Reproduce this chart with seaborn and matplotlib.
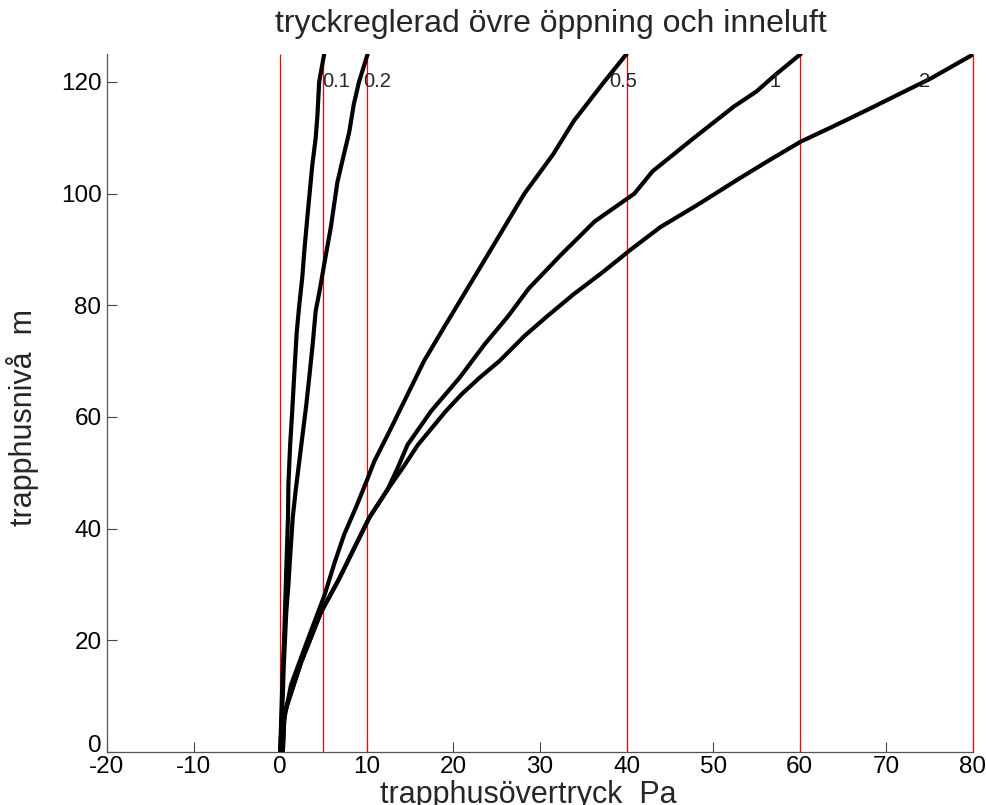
import numpy as np
import pandas as pd
import matplotlib
matplotlib.use("Agg")
import matplotlib.pyplot as plt
import seaborn as sns

# Stairwell height (m) and overpressure (Pa) for each opening area
h_01 = [0, 5, 10, 15, 20, 25, 30, 35, 42, 48, 55, 60, 67, 75, 80, 85, 90, 96, 105, 110, 114, 120, 125]
p_01 = [0, 0.1, 0.2, 0.3, 0.45, 0.55, 0.65, 0.75, 0.9, 0.95, 1.15, 1.35, 1.6, 1.9, 2.2, 2.55, 2.8, 3.15, 3.7, 4.1, 4.3, 4.5, 5.08]

h_02 = [0, 5, 10, 15, 20, 25, 30, 35, 42, 47, 52, 57, 62, 67, 73, 79, 83, 87.5, 94, 102, 106, 111, 116, 120, 125]
p_02 = [0, 0.15, 0.3, 0.4, 0.55, 0.7, 0.95, 1.15, 1.45, 1.8, 2.2, 2.6, 3.0, 3.35, 3.75, 4.1, 4.6, 5.1, 5.85, 6.6, 7.2, 7.97, 8.5, 9.1, 10.1]

h_05 = [0, 5, 12, 20, 28, 34, 39, 44, 49, 52, 58, 64, 70, 76, 85, 93, 100, 107, 113, 120, 125]
p_05 = [0, 0.35, 1.25, 3.15, 5.1, 6.3, 7.4, 8.8, 10.1, 10.85, 12.8, 14.7, 16.6, 18.9, 22.4, 25.5, 28.2, 31.5, 33.9, 37.4, 40.0]

h_1 = [0, 7, 16, 25, 31, 37, 42, 47, 51, 55, 61, 67, 73, 78, 83, 89, 95, 100, 104, 110, 115.6, 118.3, 121.3, 125]
p_1 = [0.3, 0.5, 2.4, 4.7, 6.8, 8.7, 10.3, 12.4, 13.6, 14.7, 17.4, 20.7, 23.6, 26.3, 28.7, 32.4, 36.3, 40.9, 43.0, 47.8, 52.4, 55.0, 57.2, 60.1]

h_2 = [0, 7, 16, 25, 31, 37, 42, 47, 51, 55, 61, 64, 67, 70, 74.5, 78, 82, 86, 90, 94, 98, 102.5, 106, 109.3, 112, 115, 118, 120.6, 125]
p_2 = [0.3, 0.5, 2.4, 4.7, 6.8, 8.7, 10.3, 12.4, 14.2, 15.9, 19.1, 20.9, 23.0, 25.3, 28.2, 30.8, 33.9, 37.3, 40.5, 43.9, 48.2, 52.8, 56.5, 60.1, 63.8, 67.8, 71.7, 75.1, 80.1]

curve_labels = ["0.1", "0.2", "0.5", "1", "2"]
label_x = [4.9, 9.6, 38.0, 56.5, 73.8]
label_y = 120

ref_pressures = [0, 5, 10, 40, 60, 80]

x_ticks = list(range(-20, 81, 10))
y_ticks = list(range(0, 121, 20))

frames = []
for name, h, p in zip(curve_labels, [h_01, h_02, h_05, h_1, h_2], [p_01, p_02, p_05, p_1, p_2]):
    frames.append(pd.DataFrame({"tryck": p, "niva": h, "area": name}))
df = pd.concat(frames, ignore_index=True)

sns.set_style("white")
plt.rcParams["font.family"] = ["Liberation Sans", "DejaVu Sans"]

fig = plt.figure(figsize=(9.87, 8.05), dpi=100)
ax = fig.add_axes([0.1084, 0.0658, 0.8774, 0.8671])

# Red reference pressures
ax.vlines(ref_pressures, 0, 125, colors="#ff0000", linewidth=0.9, zorder=1, clip_on=False)

sns.lineplot(data=df, x="tryck", y="niva", units="area", estimator=None,
             sort=False, color="black", linewidth=3.0, ax=ax, zorder=3)

for txt, lx in zip(curve_labels, label_x):
    ax.text(lx, label_y, txt, fontsize=14.5, ha="left", va="center", zorder=4)

ax.set_xlim(-20, 80)
ax.set_ylim(0, 125)
ax.set_xticks(x_ticks)
ax.set_xticklabels([str(v) for v in x_ticks])
ax.set_yticks(y_ticks)
ax.set_yticklabels([str(v) for v in y_ticks])
ax.tick_params(direction="in", length=7, width=0.8, colors="#444444",
               labelcolor="black", labelsize=17.5, pad=4)
ax.tick_params(axis="x", pad=3)
ax.tick_params(bottom=True, left=True)
# lift the zero label on the y axis clear of the x tick labels
ax.get_yticklabels()[0].set_verticalalignment("baseline")

for side in ["top", "right"]:
    ax.spines[side].set_visible(False)
for side in ["left", "bottom"]:
    ax.spines[side].set_color("#555555")
    ax.spines[side].set_linewidth(0.9)

ax.set_title("tryckreglerad övre öppning och inneluft", fontsize=23, pad=16, x=0.512)
ax.set_xlabel("trapphusövertryck  Pa", fontsize=22)
ax.set_ylabel("trapphusnivå  m", fontsize=22)
ax.xaxis.set_label_coords(0.486, -0.040)
ax.yaxis.set_label_coords(-0.078, 0.479)

fig.savefig("out.png", dpi=100, facecolor="white")
